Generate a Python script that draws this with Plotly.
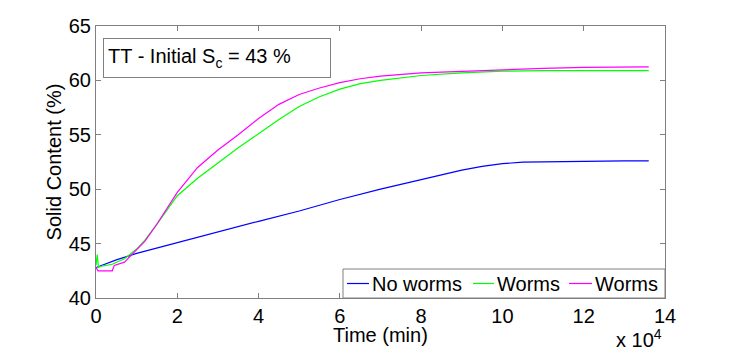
import plotly.graph_objects as go

# Time in minutes
blue_t = [0, 1000, 5000, 10000, 20000, 30000, 40000, 50000, 60000, 70000, 80000,
          90000, 95000, 100000, 105000, 110000, 120000, 130000, 136000]
blue_y = [42.8, 42.95, 43.5, 44.1, 45.1, 46.05, 47.05, 48.0, 49.05, 50.0, 50.9,
          51.75, 52.1, 52.35, 52.48, 52.52, 52.55, 52.6, 52.6]

green_t = [0, 300, 600, 1000, 4000, 7000, 10000, 12000, 15000, 20000, 25000, 30000, 35000,
           40000, 45000, 50000, 55000, 60000, 65000, 70000, 80000, 90000, 100000,
           110000, 120000, 136000]
green_y = [43.0, 44.0, 42.8, 42.9, 43.1, 43.6, 44.5, 45.3, 46.8, 49.4, 51.0, 52.4, 53.8,
           55.1, 56.4, 57.6, 58.5, 59.2, 59.7, 60.0, 60.45, 60.7, 60.85,
           60.9, 60.9, 60.9]

magenta_t = [0, 500, 4000, 4500, 7000, 10000, 12000, 15000, 18000, 20000, 25000, 30000,
             35000, 40000, 45000, 50000, 55000, 60000, 65000, 70000, 80000, 90000,
             100000, 110000, 120000, 136000]
magenta_y = [42.8, 42.5, 42.5, 43.0, 43.3, 44.4, 45.2, 46.8, 48.6, 49.7, 52.0, 53.6,
             55.0, 56.5, 57.8, 58.7, 59.3, 59.8, 60.15, 60.4, 60.7, 60.85,
             61.0, 61.1, 61.2, 61.25]

series_names = ["No worms", "Worms", "Worms"]
series_colors = ["#0000ff", "#00ff00", "#ff00ff"]
series_t = [blue_t, green_t, magenta_t]
series_y = [blue_y, green_y, magenta_y]

x_ticks = [0, 2, 4, 6, 8, 10, 12, 14]
y_ticks = [40, 45, 50, 55, 60, 65]

FONT = "Liberation Sans, Arial, sans-serif"
FS = 20
GREY = "#808080"

fig = go.Figure()
for name, t, y, c in zip(series_names, series_t, series_y, series_colors):
    fig.add_trace(go.Scatter(x=t, y=y, mode="lines", name=name, showlegend=False,
                             line=dict(color=c, width=1.2)))

axis_common = dict(showgrid=False, zeroline=False, showline=True, linecolor=GREY,
                   linewidth=1, mirror="ticks", ticks="inside", ticklen=5,
                   tickcolor=GREY, tickfont=dict(size=FS, color="black", family=FONT))

fig.update_xaxes(range=[0, 140000], tickvals=[v * 10000 for v in x_ticks],
                 ticktext=[str(v) for v in x_ticks], **axis_common)
fig.update_yaxes(range=[40, 65], tickvals=y_ticks, ticktext=[str(v) for v in y_ticks],
                 title=dict(text="Solid Content (%)", font=dict(size=FS, family=FONT, color="black"),
                            standoff=1),
                 **axis_common)

# x-axis title
fig.add_annotation(xref="paper", yref="paper", x=0.5, y=-0.137, xanchor="center", yanchor="middle",
                   text="Time (min)", showarrow=False, borderpad=0,
                   font=dict(size=FS, family=FONT, color="black"))

# info box
fig.add_annotation(xref="paper", yref="paper", x=0.0123, y=0.956, xanchor="left", yanchor="top",
                   text="TT - Initial S<sub>c</sub> = 43 %", showarrow=False,
                   font=dict(size=FS, family=FONT, color="black"),
                   bordercolor=GREY, borderwidth=1, borderpad=4, bgcolor="white",
                   width=218, height=30, align="left", valign="middle")

# axis multiplier
fig.add_annotation(xref="paper", yref="paper", x=0.997, y=-0.198, xanchor="right", yanchor="bottom",
                   text="x 10<sup>4</sup>", showarrow=False, borderpad=0,
                   font=dict(size=FS, family=FONT, color="black"))

# legend (drawn to match the compact reference legend)
W, H = 569.0, 272.0
def px(xp):
    return (xp - 96) / W
def py(yp):
    return (298 - yp) / H

fig.add_shape(type="rect", xref="paper", yref="paper", x0=px(343), x1=1.0, y0=0.0, y1=py(269),
              line=dict(color=GREY, width=1), fillcolor="white", layer="above")
leg_line_x = [(347, 369), (473, 494), (569, 592)]
for (a, b), name, c in zip(leg_line_x, series_names, series_colors):
    fig.add_shape(type="line", xref="paper", yref="paper", x0=px(a), x1=px(b),
                  y0=py(283.5), y1=py(283.5), line=dict(color=c, width=1.2), layer="above")
    fig.add_annotation(xref="paper", yref="paper", x=px(b + 2), y=py(283.5), xanchor="left",
                       yanchor="middle", text=name, showarrow=False, borderpad=0,
                       font=dict(size=FS, family=FONT, color="black"))

fig.update_layout(
    width=735, height=351,
    margin=dict(l=96, r=70, t=26, b=53),
    paper_bgcolor="white", plot_bgcolor="white",
    font=dict(family=FONT, size=FS, color="black"),
    showlegend=False,
)

fig.write_html("out.html")
